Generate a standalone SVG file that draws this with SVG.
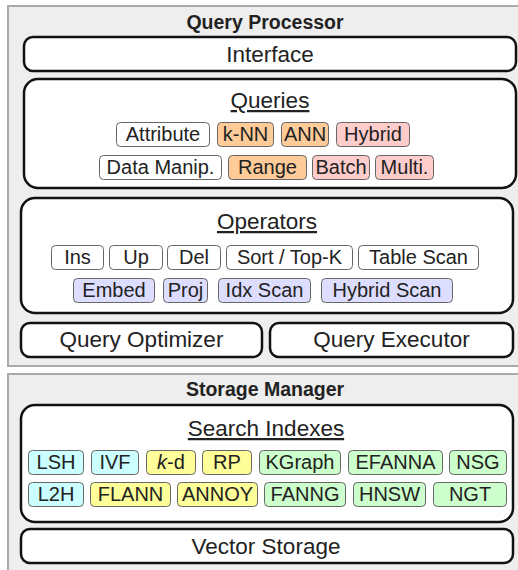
<svg xmlns="http://www.w3.org/2000/svg" width="518" height="570" viewBox="0 0 518 570">
<style>
text{font-family:"Liberation Sans",Arial,sans-serif;fill:#222;text-anchor:middle}
.panel{fill:#eeeeee;stroke:#aaaaaa;stroke-width:2}
.box{fill:#ffffff;stroke:#111;stroke-width:2.5}
.chip{stroke:#666;stroke-width:1}
.w{fill:#ffffff}.o{fill:#ffcc99}.p{fill:#ffcccc}.l{fill:#ddddff}.c{fill:#ccffff}.y{fill:#ffff99}.g{fill:#ccffcc}
.title{font-size:19.5px;font-weight:bold}
.big{font-size:22.5px}
.ct{font-size:20px}
.u{text-decoration:underline}
</style>
<g id="query-processor">
<rect class="panel" x="8" y="6" width="514" height="360"/>
<text class="title" x="265" y="29">Query Processor</text>
</g>
<g id="interface">
<rect class="box" x="24" y="37" width="492" height="34" rx="9"/>
<text class="big" x="270" y="62">Interface</text>
</g>
<g id="queries">
<rect class="box" x="24" y="79" width="492" height="109" rx="14"/>
<text class="big u" x="270" y="108">Queries</text>
</g>
<g id="q-attribute"><rect class="chip w" x="116.5" y="122.5" width="93" height="24" rx="4"/><text class="ct" x="163" y="141">Attribute</text></g>
<g id="q-knn"><rect class="chip o" x="217.5" y="122.5" width="56" height="24" rx="4"/><text class="ct" x="245.5" y="141">k-NN</text></g>
<g id="q-ann"><rect class="chip o" x="281.5" y="122.5" width="47" height="24" rx="4"/><text class="ct" x="305" y="141">ANN</text></g>
<g id="q-hybrid"><rect class="chip p" x="336.5" y="122.5" width="73" height="24" rx="4"/><text class="ct" x="373" y="141">Hybrid</text></g>
<g id="q-datamanip"><rect class="chip w" x="99.5" y="155.5" width="122" height="24" rx="4"/><text class="ct" x="160.5" y="174">Data Manip.</text></g>
<g id="q-range"><rect class="chip o" x="228.5" y="155.5" width="78" height="24" rx="4"/><text class="ct" x="267.5" y="174">Range</text></g>
<g id="q-batch"><rect class="chip p" x="312.5" y="155.5" width="57" height="24" rx="4"/><text class="ct" x="341" y="174">Batch</text></g>
<g id="q-multi"><rect class="chip p" x="375.5" y="155.5" width="58" height="24" rx="4"/><text class="ct" x="404.5" y="174">Multi.</text></g>
<g id="operators">
<rect class="box" x="21" y="198" width="492" height="115" rx="14"/>
<text class="big u" x="267" y="229">Operators</text>
</g>
<g id="op-ins"><rect class="chip w" x="51.5" y="245.5" width="52" height="24" rx="4"/><text class="ct" x="77.5" y="264">Ins</text></g>
<g id="op-up"><rect class="chip w" x="109.5" y="245.5" width="53" height="24" rx="4"/><text class="ct" x="136" y="264">Up</text></g>
<g id="op-del"><rect class="chip w" x="167.5" y="245.5" width="53" height="24" rx="4"/><text class="ct" x="194" y="264">Del</text></g>
<g id="op-sort"><rect class="chip w" x="226.5" y="245.5" width="126" height="24" rx="4"/><text class="ct" x="289.5" y="264">Sort / Top-K</text></g>
<g id="op-tablescan"><rect class="chip w" x="358.5" y="245.5" width="120" height="24" rx="4"/><text class="ct" x="418.5" y="264">Table Scan</text></g>
<g id="op-embed"><rect class="chip l" x="73.5" y="278.5" width="81" height="24" rx="4"/><text class="ct" x="114" y="297">Embed</text></g>
<g id="op-proj"><rect class="chip l" x="163.5" y="278.5" width="44" height="24" rx="4"/><text class="ct" x="185.5" y="297">Proj</text></g>
<g id="op-idxscan"><rect class="chip l" x="218.5" y="278.5" width="92" height="24" rx="4"/><text class="ct" x="264.5" y="297">Idx Scan</text></g>
<g id="op-hybridscan"><rect class="chip l" x="321.5" y="278.5" width="131" height="24" rx="4"/><text class="ct" x="387" y="297">Hybrid Scan</text></g>
<g id="query-optimizer">
<rect class="box" x="21" y="323" width="241" height="34" rx="9"/>
<text class="big" x="141.5" y="347">Query Optimizer</text>
</g>
<g id="query-executor">
<rect class="box" x="270" y="323" width="243" height="34" rx="9"/>
<text class="big" x="391.5" y="347">Query Executor</text>
</g>
<g id="storage-manager">
<rect class="panel" x="8" y="374" width="514" height="210"/>
<text class="title" x="265" y="396">Storage Manager</text>
</g>
<g id="search-indexes">
<rect class="box" x="21" y="405" width="492" height="117" rx="14"/>
<text class="big u" x="266" y="436">Search Indexes</text>
</g>
<g id="i-lsh"><rect class="chip c" x="28.5" y="450.5" width="55" height="24" rx="4"/><text class="ct" x="56" y="469">LSH</text></g>
<g id="i-ivf"><rect class="chip c" x="91.5" y="450.5" width="47" height="24" rx="4"/><text class="ct" x="115" y="469">IVF</text></g>
<g id="i-kd"><rect class="chip y" x="146.5" y="450.5" width="49" height="24" rx="4"/><text class="ct" x="171" y="469"><tspan font-style="italic">k</tspan>-d</text></g>
<g id="i-rp"><rect class="chip y" x="202.5" y="450.5" width="49" height="24" rx="4"/><text class="ct" x="227" y="469">RP</text></g>
<g id="i-kgraph"><rect class="chip g" x="259.5" y="450.5" width="81" height="24" rx="4"/><text class="ct" x="300" y="469">KGraph</text></g>
<g id="i-efanna"><rect class="chip g" x="348.5" y="450.5" width="94" height="24" rx="4"/><text class="ct" x="395.5" y="469">EFANNA</text></g>
<g id="i-nsg"><rect class="chip g" x="449.5" y="450.5" width="57" height="24" rx="4"/><text class="ct" x="478" y="469">NSG</text></g>
<g id="i-l2h"><rect class="chip c" x="28.5" y="482.5" width="55" height="24" rx="4"/><text class="ct" x="56" y="501">L2H</text></g>
<g id="i-flann"><rect class="chip y" x="90.5" y="482.5" width="80" height="24" rx="4"/><text class="ct" x="130.5" y="501">FLANN</text></g>
<g id="i-annoy"><rect class="chip y" x="177.5" y="482.5" width="80" height="24" rx="4"/><text class="ct" x="217.5" y="501">ANNOY</text></g>
<g id="i-fanng"><rect class="chip g" x="264.5" y="482.5" width="81" height="24" rx="4"/><text class="ct" x="305" y="501">FANNG</text></g>
<g id="i-hnsw"><rect class="chip g" x="353.5" y="482.5" width="72" height="24" rx="4"/><text class="ct" x="389.5" y="501">HNSW</text></g>
<g id="i-ngt"><rect class="chip g" x="433.5" y="482.5" width="73" height="24" rx="4"/><text class="ct" x="470" y="501">NGT</text></g>
<g id="vector-storage">
<rect class="box" x="21" y="529" width="492" height="34" rx="9"/>
<text class="big" x="266" y="554">Vector Storage</text>
</g>
</svg>
